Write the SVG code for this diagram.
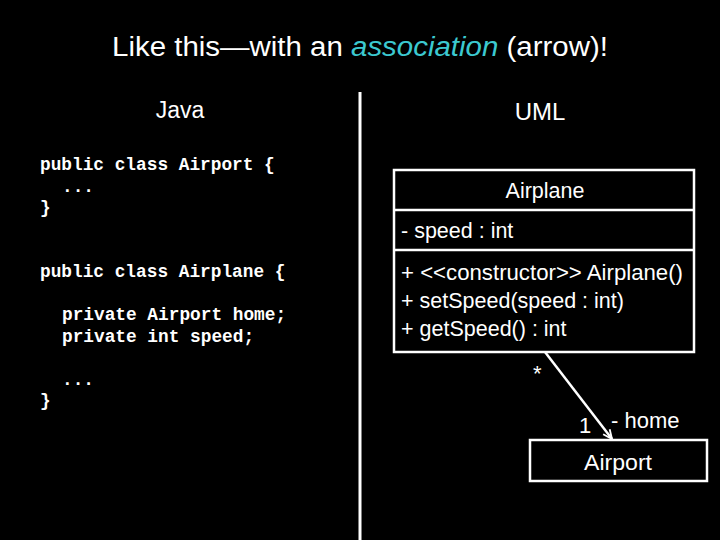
<svg xmlns="http://www.w3.org/2000/svg" width="720" height="540" viewBox="0 0 720 540">
<style>
.s{font-family:"Liberation Sans",Arial,sans-serif;fill:#fff}
.c{font-family:"Liberation Mono","Courier New",monospace;font-weight:bold;font-size:17.8px;fill:#fff}
.box{fill:#000;stroke:#fff;stroke-width:2.5}
</style>
<defs>
<marker id="arr" viewBox="0 0 12 12" refX="11" refY="6" markerWidth="11" markerHeight="11" markerUnits="userSpaceOnUse" orient="auto">
<path d="M1,1.5 L11,6 L1,10.5" fill="none" stroke="#fff" stroke-width="2"/>
</marker>
</defs>
<rect width="720" height="540" fill="#000"/>
<text class="s" x="360" y="56" font-size="27" text-anchor="middle" textLength="496" lengthAdjust="spacingAndGlyphs">Like this—with an <tspan fill="#3cc9d0" font-style="italic">association</tspan> (arrow)!</text>
<text class="s" x="180" y="118" font-size="23" text-anchor="middle">Java</text>
<text class="s" x="540" y="120" font-size="24" text-anchor="middle">UML</text>
<line x1="360" y1="92" x2="360" y2="540" stroke="#fff" stroke-width="3"/>
<g id="code">
<text class="c" x="40" y="170">public class Airport {</text>
<text class="c" x="62" y="192">...</text>
<text class="c" x="40" y="213">}</text>
<text class="c" x="40" y="277">public class Airplane {</text>
<text class="c" x="62" y="320">private Airport home;</text>
<text class="c" x="62" y="342">private int speed;</text>
<text class="c" x="62" y="385">...</text>
<text class="c" x="40" y="406">}</text>
</g>
<g id="airplane">
<rect class="box" x="394" y="170" width="300" height="182"/>
<line x1="394" y1="210" x2="694" y2="210" stroke="#fff" stroke-width="2.5"/>
<line x1="394" y1="250" x2="694" y2="250" stroke="#fff" stroke-width="2.5"/>
<text class="s" x="545" y="198" font-size="21.5" text-anchor="middle">Airplane</text>
<text class="s" x="401" y="238" font-size="21.5">- speed : int</text>
<text class="s" x="401" y="280" font-size="21.5" textLength="282" lengthAdjust="spacingAndGlyphs">+ &lt;&lt;constructor&gt;&gt; Airplane()</text>
<text class="s" x="401" y="308" font-size="21.5">+ setSpeed(speed : int)</text>
<text class="s" x="401" y="336" font-size="21.5">+ getSpeed() : int</text>
</g>
<g id="airport">
<rect class="box" x="530" y="440" width="177" height="41"/>
<text class="s" x="618" y="470" font-size="22" text-anchor="middle" textLength="68" lengthAdjust="spacingAndGlyphs">Airport</text>
</g>
<g id="connectors">
<line x1="545" y1="352" x2="612" y2="439" stroke="#fff" stroke-width="2.5" marker-end="url(#arr)"/>
<text class="s" x="533" y="381" font-size="22">*</text>
<text class="s" x="579" y="433" font-size="22">1</text>
<text class="s" x="611" y="428" font-size="22">- home</text>
</g>
</svg>
